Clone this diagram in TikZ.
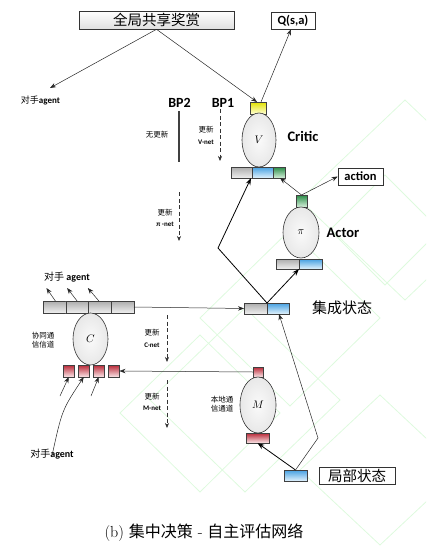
\documentclass[tikz,border=0pt]{standalone}
\usepackage{fontspec}
\newfontfamily\cjk{Noto Sans CJK SC}
\newfontfamily\carl{Carlito}
\usetikzlibrary{arrows.meta,shapes.geometric,shadows,calc}
\definecolor{bluetop}{RGB}{70,160,225}
\definecolor{bluebot}{RGB}{225,242,252}
\definecolor{redtop}{RGB}{185,40,55}
\definecolor{redbot}{RGB}{250,230,232}
\definecolor{greentop}{RGB}{40,140,70}
\definecolor{greenbot}{RGB}{215,240,220}
\definecolor{yeltop}{RGB}{225,225,0}
\definecolor{yelbot}{RGB}{255,255,215}
\definecolor{wm}{RGB}{222,250,222}
\begin{document}
\begin{tikzpicture}[x=1pt,y=-1pt,
 seg/.style={draw=black!75, line width=0.5pt, inner sep=0pt, outer sep=0pt, shading=axis, anchor=north west},
 gseg/.style={seg, top color=gray!65, bottom color=gray!12},
 bseg/.style={seg, top color=bluetop, bottom color=bluebot},
 rseg/.style={seg, top color=redtop, bottom color=redbot},
 grseg/.style={seg, top color=greentop, bottom color=greenbot},
 yseg/.style={seg, top color=yeltop, bottom color=yelbot},
 net/.style={ellipse, draw=black!80, line width=0.6pt, inner color=gray!4, outer color=gray!18, inner sep=0pt, font=\fontsize{11}{12}\selectfont},
 lbox/.style={draw=black!80, line width=0.6pt, fill=white, inner sep=0pt, drop shadow={shadow xshift=1.2pt, shadow yshift=-1.2pt, fill=gray!45, opacity=1}},
 arr/.style={-{Stealth[length=6pt,width=4.5pt]}, line width=0.5pt, draw=black!85},
 barr/.style={-{Stealth[length=7pt,width=5pt]}, line width=0.8pt},
 darr/.style={-{Stealth[length=5pt,width=4pt]}, dash pattern=on 4pt off 2.5pt, line width=0.6pt, draw=black!80},
 small/.style={font=\cjk\fontsize{7.5}{8.5}\selectfont, inner sep=0pt},
 tiny/.style={font=\carl\bfseries\fontsize{7}{8}\selectfont, inner sep=0pt},
 bold/.style={font=\carl\bfseries\fontsize{14.5}{15}\selectfont, inner sep=0pt},
]
\useasboundingbox (0,0) rectangle (426,549);
% watermark
\begin{scope}[draw=wm, line width=0.8pt]
\clip (0,0) rectangle (426,549);
\draw (300,200) -- (405,100) -- (510,200) -- (405,300) -- cycle;
\draw (330,230) -- (385,175) -- (440,230) -- (385,285) -- cycle;
\draw (150,400) -- (245,308) -- (340,400) -- (245,492) -- cycle;
\draw (120,413) -- (200,335) -- (280,413) -- (200,492) -- cycle;
\draw (200,318) -- (290,230) -- (380,318) -- (290,406) -- cycle;
\draw (300,470) -- (380,395) -- (460,470) -- (380,545) -- cycle;
\end{scope}
% top boxes
\node[lbox, top color=white, bottom color=gray!25, minimum width=155, minimum height=18, font=\cjk\fontsize{14.5}{15}\selectfont] (gbox) at (156.5,20) {全局共享奖赏};
\node[lbox, minimum width=44, minimum height=17, font=\carl\bfseries\fontsize{12.5}{13}\selectfont] (Q) at (293,20.5) {Q(s,a)};
\node[inner sep=0pt] (oppA) at (40.5,100) {{\cjk\fontsize{9}{10}\selectfont 对手}{\carl\bfseries\fontsize{9}{10}\selectfont agent}};
\coordinate (oa) at (50,88);
% critic
\node[yseg, minimum width=16, minimum height=12] (yb) at (250,102) {};
\node[net, minimum width=34, minimum height=54] (V) at (259,140) {$V$};
\node[gseg, minimum width=21, minimum height=11] (cb1) at (231,167) {};
\node[bseg, minimum width=21, minimum height=11] (cb2) at (cb1.north east) {};
\node[grseg, minimum width=12, minimum height=11] (cb3) at (cb2.north east) {};
\node[bold] (critic) at (303,136) {Critic};
\node[lbox, minimum width=45, minimum height=17, font=\carl\bfseries\fontsize{12.5}{13}\selectfont] (action) at (360.5,176.5) {action};
% actor
\node[grseg, minimum width=11, minimum height=12] (ag) at (296,195) {};
\node[net, minimum width=36, minimum height=51] (P) at (301,232.5) {$\pi$};
\node[gseg, minimum width=23, minimum height=10] (ab1) at (276,259) {};
\node[bseg, minimum width=23, minimum height=10] (ab2) at (ab1.north east) {};
\node[bold] (actor) at (343,233) {Actor};
% integrated state
\node[gseg, minimum width=23, minimum height=11] (ib1) at (244,303) {};
\node[bseg, minimum width=22, minimum height=11] (ib2) at (ib1.north east) {};
\node[inner sep=0pt, font=\cjk\fontsize{15}{16}\selectfont] (ist) at (342,308) {集成状态};
% C
\node[gseg, minimum width=22.75, minimum height=12] (c1) at (43,301) {};
\node[gseg, minimum width=22.75, minimum height=12] (c2) at (c1.north east) {};
\node[gseg, minimum width=22.75, minimum height=12] (c3) at (c2.north east) {};
\node[gseg, minimum width=22.75, minimum height=12] (c4) at (c3.north east) {};
\node[net, minimum width=35, minimum height=52] (C) at (90.5,339) {$C$};
\node[rseg, minimum width=11.5, minimum height=12] (r1) at (63,365) {};
\node[rseg, minimum width=11.5, minimum height=12] (r2) at (78,365) {};
\node[rseg, minimum width=11.5, minimum height=12] (r3) at (93,365) {};
\node[rseg, minimum width=11.5, minimum height=12] (r4) at (108,365) {};
\node[inner sep=0pt] (oppT) at (67,277) {{\cjk\fontsize{10}{11}\selectfont 对手 }{\carl\bfseries\fontsize{10}{11}\selectfont agent}};
\node[inner sep=0pt] (oppB) at (52,454) {{\cjk\fontsize{10}{11}\selectfont 对手}{\carl\bfseries\fontsize{10}{11}\selectfont agent}};
\node[small, align=center] (cch) at (43,340) {协同通\\[1pt]信信道};
% M
\node[rseg, minimum width=10, minimum height=10] (mt) at (253,367) {};
\node[net, minimum width=36, minimum height=56] (M) at (258,405) {$M$};
\node[rseg, minimum width=23, minimum height=10] (mb) at (246,433) {};
\node[small, align=center] (lch) at (222,404) {本地通\\[1pt]信通道};
\node[bseg, minimum width=23, minimum height=11] (lb) at (284,470) {};
\node[lbox, minimum width=76, minimum height=17, font=\cjk\fontsize{14.5}{15}\selectfont] (lst) at (357,475.5) {局部状态};
% BP labels
\node[font=\carl\bfseries\fontsize{14}{15}\selectfont, inner sep=0pt] (bp2) at (179.5,103) {BP2};
\node[font=\carl\bfseries\fontsize{14}{15}\selectfont, inner sep=0pt] (bp1) at (223,103) {BP1};
\coordinate (bp2a) at (179,111); \coordinate (bp2b) at (179,162);
\coordinate (bp1a) at (220,109); \coordinate (bp1b) at (220,161);
\draw[line width=2pt, draw=black!75] (bp2a) -- (bp2b);
\draw[darr] (bp1a) -- (bp1b);
\node[small] (nu) at (157,135) {无更新};
\node[small] (u1) at (206,130) {更新};
\node[tiny] (vn) at (206,142) {V-net};
\coordinate (pa) at (179,192); \coordinate (pb) at (179,241);
\draw[darr] (pa) -- (pb);
\node[small] (u2) at (165,213) {更新};
\node[tiny] (pn) at (165,224) {π -net};
\coordinate (ca) at (167,315); \coordinate (cbb) at (167,362);
\draw[darr] (ca) -- (cbb);
\node[small] (u3) at (152,333) {更新};
\node[tiny] (cn) at (152,345) {C-net};
\coordinate (ma) at (167,380); \coordinate (mbb) at (167,428);
\draw[darr] (ma) -- (mbb);
\node[small] (u4) at (152,397) {更新};
\node[tiny] (mn) at (152,408) {M-net};
% arrows top
\draw[arr] (gbox.south) -- (oa);
\draw[arr] (gbox.south) -- ([xshift=-1pt]yb.north);
\draw[arr] ([xshift=3pt]yb.north) -- ([xshift=-2pt]Q.south);
\draw[arr] (ag.north) -- (action.west);
\draw[arr] (ag.north) -- ([xshift=1pt]cb3.south);
\coordinate (kink1) at (218,248);
\draw[barr] (ib1.north east) -- (ab1.south east);
\draw[barr] (ib1.north east) -- (kink1) -- ([xshift=-1pt]cb1.south east);
\draw[arr] (c4.east) -- (ib1.west);
\draw[arr] (mt.west) -- (r4.east);
\draw[barr] (lb.north) -- (mb.south);
\coordinate (kink2) at (318,438);
\draw[arr] (lb.north) -- (kink2) -- ([xshift=1pt]ib2.south);
% C arrows
\draw[arr] ([xshift=1pt]c1.north) -- ++(-9,-13);
\draw[arr] ([xshift=0pt]c2.north) -- ++(-10,-13);
\draw[arr] ([xshift=-1pt]c3.north) -- ++(-11,-13);
\coordinate (t1) at (60,396); \coordinate (t3) at (91,396);
\draw[arr] (t1) -- (r1.south);
\draw[arr] (t3) -- (r3.south);
\draw[arr] ([xshift=0pt,yshift=-7pt]oppB.north) .. controls (62,410) .. (r2.south);
% caption
\node[inner sep=0pt, font=\fontsize{16}{18}\selectfont] (cap) at (204,533) {(b) {\cjk 集中决策} - {\cjk 自主评估网络}};
\end{tikzpicture}
\end{document}
